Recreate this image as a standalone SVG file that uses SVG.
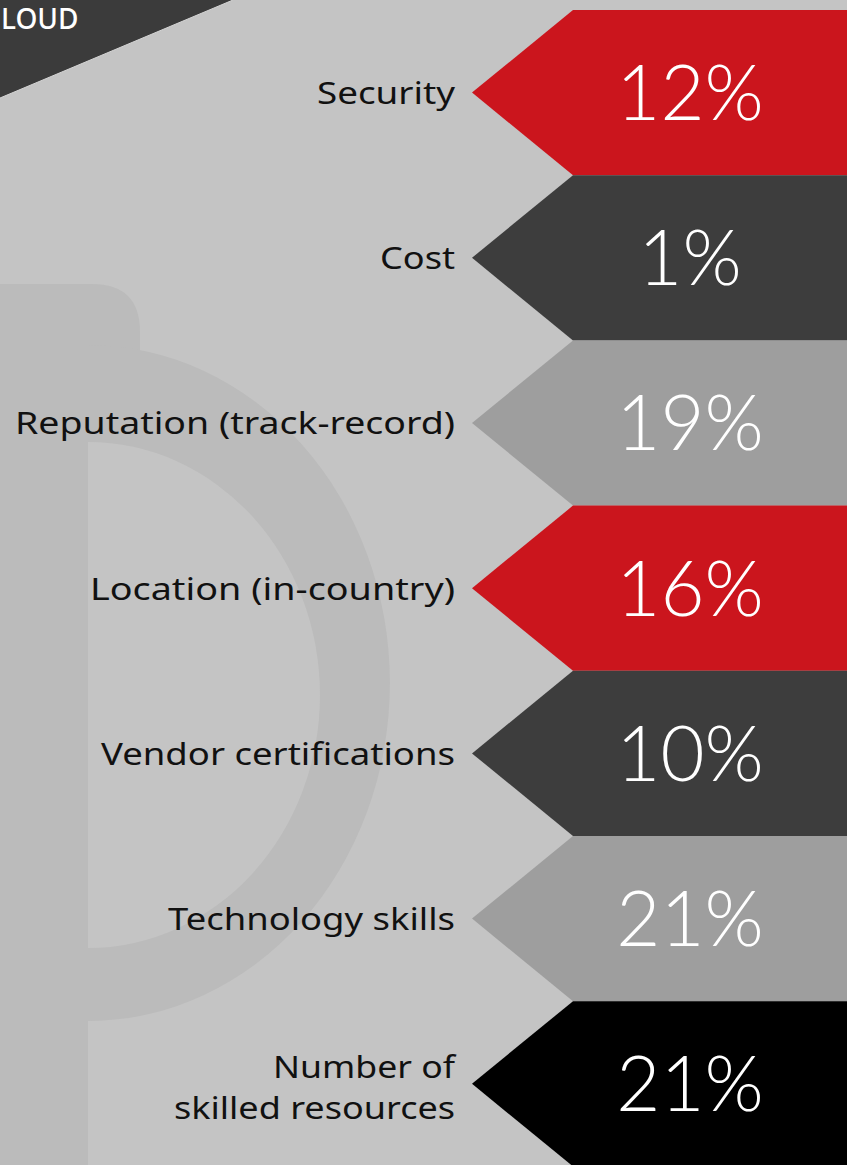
<svg xmlns="http://www.w3.org/2000/svg" width="847" height="1165" viewBox="0 0 847 1165">
<style>
.lbl{font-family:"Noto Sans","Liberation Sans",sans-serif;font-size:31px;fill:#111;text-anchor:end}
.pct{font-family:Lato,"Open Sans","Liberation Sans",sans-serif;font-weight:300;font-size:76px;fill:#fff;text-anchor:middle}
.wm{fill:#bbbbbb}
</style>
<rect width="847" height="1165" fill="#c4c4c4"/>
<g id="watermark">
<rect class="wm" x="0" y="284" width="88" height="881"/>
<path class="wm" d="M0,284 H92 Q140,284 140,332 V352 H0 Z"/>
<path class="wm" d="M88,345 A302,338 0 0 1 88,1021 V948 A232,253 0 0 0 88,442 Z"/>
</g>
<g id="header">
<polygon points="0,0 233,0 0,98" fill="#3b3b3b"/>
<line x1="233" y1="0" x2="0" y2="98" stroke="#d4d4d4" stroke-width="1"/>
<text x="1" y="29" font-family="Noto Sans,Liberation Sans,sans-serif" font-size="28" font-weight="500" fill="#fff">LOUD</text>
</g>
<g id="connectors"></g>
<g id="security">
<polygon points="847,10 573,10 472,92.6 573,175.2 847,175.2" fill="#cb151d"/>
<text class="lbl" x="455" y="104" textLength="138" lengthAdjust="spacingAndGlyphs">Security</text>
<text class="pct" x="690" y="120">12%</text>
</g>
<g id="cost">
<polygon points="847,175.2 573,175.2 472,257.8 573,340.4 847,340.4" fill="#3d3d3d"/>
<text class="lbl" x="455" y="269" textLength="75" lengthAdjust="spacingAndGlyphs">Cost</text>
<text class="pct" x="690" y="285">1%</text>
</g>
<g id="reputation">
<polygon points="847,340.4 573,340.4 472,423 573,505.6 847,505.6" fill="#9e9e9e"/>
<text class="lbl" x="455" y="434" textLength="440" lengthAdjust="spacingAndGlyphs">Reputation (track-record)</text>
<text class="pct" x="690" y="450">19%</text>
</g>
<g id="location">
<polygon points="847,505.6 573,505.6 472,588.2 573,670.8 847,670.8" fill="#cb151d"/>
<text class="lbl" x="455" y="600" textLength="365" lengthAdjust="spacingAndGlyphs">Location (in-country)</text>
<text class="pct" x="690" y="616">16%</text>
</g>
<g id="vendor">
<polygon points="847,670.8 573,670.8 472,753.4 573,836 847,836" fill="#3d3d3d"/>
<text class="lbl" x="455" y="765" textLength="354" lengthAdjust="spacingAndGlyphs">Vendor certifications</text>
<text class="pct" x="690" y="781">10%</text>
</g>
<g id="technology">
<polygon points="847,836 573,836 472,918.6 573,1001.2 847,1001.2" fill="#9e9e9e"/>
<text class="lbl" x="455" y="930" textLength="287" lengthAdjust="spacingAndGlyphs">Technology skills</text>
<text class="pct" x="690" y="946">21%</text>
</g>
<g id="resources">
<polygon points="847,1001.2 573,1001.2 472,1083.8 573,1166.4 847,1166.4" fill="#000"/>
<text class="lbl" x="455" y="1078" textLength="182" lengthAdjust="spacingAndGlyphs">Number of</text>
<text class="lbl" x="455" y="1119" textLength="281" lengthAdjust="spacingAndGlyphs">skilled resources</text>
<text class="pct" x="690" y="1111">21%</text>
</g>
</svg>
